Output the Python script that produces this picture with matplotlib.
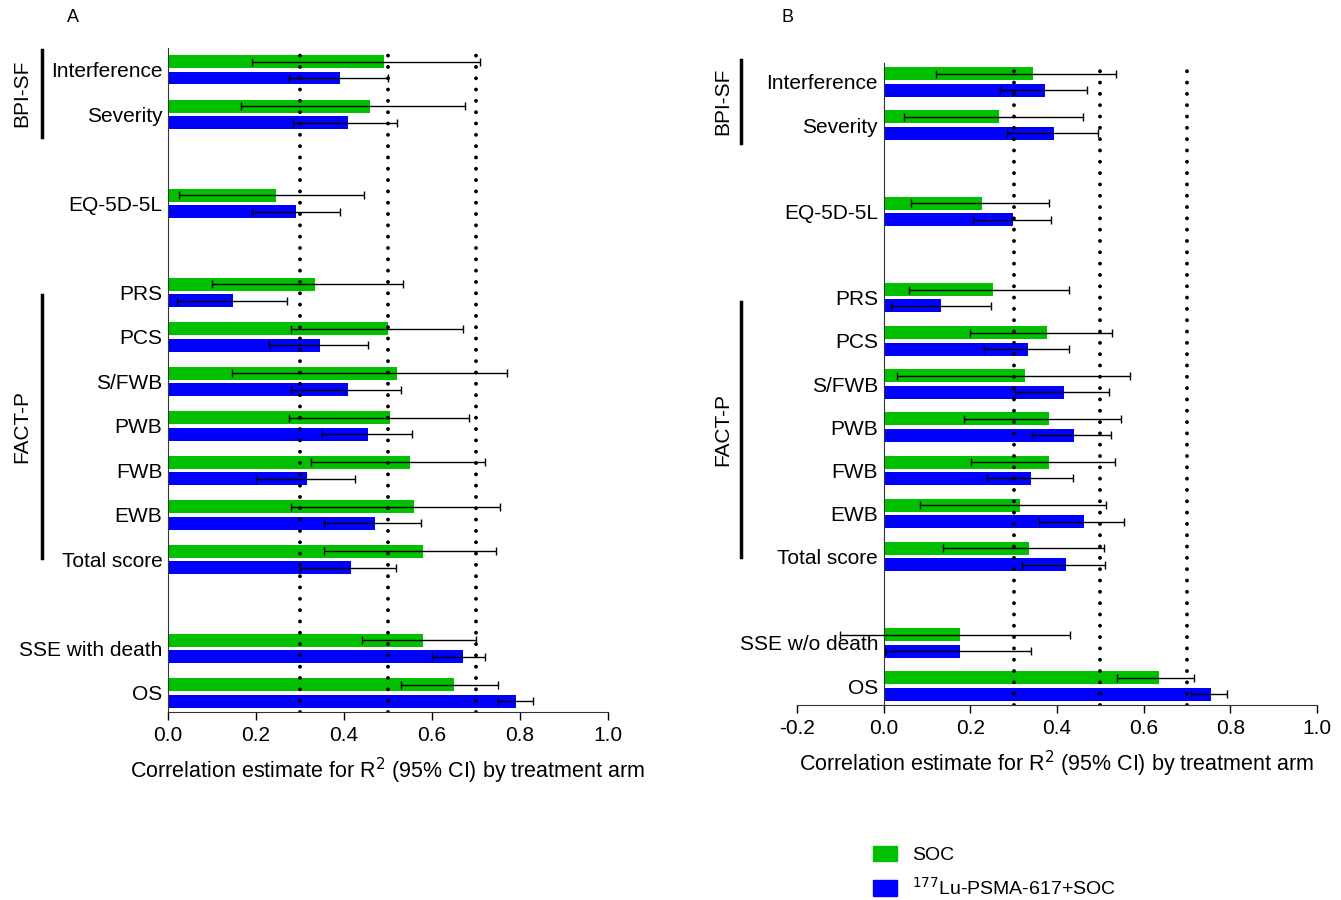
import matplotlib
matplotlib.use('Agg')
import matplotlib.pyplot as plt
from matplotlib.lines import Line2D
from matplotlib.patches import Patch
import numpy as np

plt.rcParams['font.family'] = ['Liberation Sans', 'DejaVu Sans']

# panel A data
cats_a = ['Interference', 'Severity', 'EQ-5D-5L', 'PRS', 'PCS', 'S/FWB', 'PWB',
          'FWB', 'EWB', 'Total score', 'SSE with death', 'OS']
soc_a = [0.49, 0.46, 0.245, 0.335, 0.50, 0.52, 0.505, 0.55, 0.56, 0.58, 0.58, 0.65]
soc_a_lo = [0.19, 0.165, 0.025, 0.10, 0.28, 0.145, 0.275, 0.325, 0.28, 0.355, 0.44, 0.53]
soc_a_hi = [0.71, 0.675, 0.445, 0.535, 0.67, 0.77, 0.685, 0.72, 0.755, 0.745, 0.70, 0.75]
lu_a = [0.39, 0.41, 0.29, 0.148, 0.345, 0.41, 0.455, 0.315, 0.47, 0.415, 0.67, 0.79]
lu_a_lo = [0.275, 0.285, 0.19, 0.02, 0.23, 0.28, 0.35, 0.20, 0.355, 0.30, 0.60, 0.75]
lu_a_hi = [0.50, 0.52, 0.39, 0.27, 0.455, 0.53, 0.555, 0.425, 0.575, 0.518, 0.72, 0.83]

# panel B data
cats_b = ['Interference', 'Severity', 'EQ-5D-5L', 'PRS', 'PCS', 'S/FWB', 'PWB',
          'FWB', 'EWB', 'Total score', 'SSE w/o death', 'OS']
soc_b = [0.345, 0.265, 0.228, 0.252, 0.377, 0.326, 0.381, 0.381, 0.315, 0.336, 0.177, 0.636]
soc_b_lo = [0.12, 0.046, 0.064, 0.059, 0.20, 0.031, 0.185, 0.201, 0.084, 0.138, -0.10, 0.538]
soc_b_hi = [0.537, 0.459, 0.381, 0.427, 0.528, 0.569, 0.548, 0.534, 0.512, 0.508, 0.429, 0.716]
lu_b = [0.373, 0.394, 0.299, 0.133, 0.332, 0.416, 0.439, 0.341, 0.462, 0.42, 0.177, 0.755]
lu_b_lo = [0.269, 0.285, 0.205, 0.016, 0.232, 0.303, 0.343, 0.239, 0.359, 0.32, 0.002, 0.71]
lu_b_hi = [0.47, 0.494, 0.387, 0.247, 0.427, 0.519, 0.524, 0.438, 0.555, 0.511, 0.339, 0.793]

ref_lines = [0.3, 0.5, 0.7]
series_names = ['SOC', '$^{177}$Lu-PSMA-617+SOC']

GREEN = '#00c000'
BLUE = '#0000ff'
W, H = 1341, 900

# row slots, with gaps between instrument groups
pos = np.array([0, 1, 3, 5, 6, 7, 8, 9, 10, 11, 13, 14])


def px(x, y):
    return x / W, 1 - y / H


def axes_px(fig, left, top, right, bottom):
    return fig.add_axes([left / W, 1 - bottom / H, (right - left) / W, (bottom - top) / H])


def draw_panel(ax, cats, soc, soc_lo, soc_hi, lu, lu_lo, lu_hi, xmin, ylim, bh, off):
    # spine position first: moving it resets the tick labels
    for s in ['top', 'right']:
        ax.spines[s].set_visible(False)
    ax.spines['left'].set_position(('data', 0))
    ax.spines['left'].set_color('#333333')
    ax.spines['bottom'].set_color('#333333')

    soc = np.array(soc)
    lu = np.array(lu)
    ax.barh(pos - off, soc, height=bh, color=GREEN, zorder=2)
    ax.barh(pos + off, lu, height=bh, color=BLUE, zorder=2)
    for r in ref_lines:
        ax.axvline(r, color='black', lw=2.8, linestyle=(0, (0.01, 2.9)),
                   dash_capstyle='round', zorder=3)
    ax.errorbar(soc, pos - off, xerr=[soc - np.array(soc_lo), np.array(soc_hi) - soc],
                fmt='none', ecolor='black', elinewidth=1, capsize=3, capthick=1, zorder=4)
    ax.errorbar(lu, pos + off, xerr=[lu - np.array(lu_lo), np.array(lu_hi) - lu],
                fmt='none', ecolor='black', elinewidth=1, capsize=3, capthick=1, zorder=4)
    ax.set_xlim(xmin, 1.0)
    ax.set_ylim(*ylim)
    ax.set_yticks(pos)
    ax.set_yticklabels(cats, fontsize=15)
    ax.tick_params(axis='y', length=0, pad=4)
    ticks = np.round(np.arange(xmin, 1.01, 0.2), 1)
    ax.set_xticks(ticks)
    ax.set_xticklabels(['%.1f' % (v + 0.0) for v in ticks], fontsize=15)
    ax.tick_params(axis='x', length=6, width=1, pad=4)
    ax.set_xlabel('Correlation estimate for R$^2$ (95% CI) by treatment arm',
                  fontsize=15.5, labelpad=8)


fig = plt.figure(figsize=(W / 100, H / 100), dpi=100)

ax_a = axes_px(fig, 168, 48, 608, 712)
draw_panel(ax_a, cats_a, soc_a, soc_a_lo, soc_a_hi, lu_a, lu_a_lo, lu_a_hi,
           0.0, (14.43, -0.49), 0.29, 0.185)

ax_b = axes_px(fig, 797, 63, 1317, 705)
draw_panel(ax_b, cats_b, soc_b, soc_b_lo, soc_b_hi, lu_b, lu_b_lo, lu_b_hi,
           -0.2, (14.44, -0.44), 0.30, 0.19)

# panel letters
fig.text(*px(73, 18), 'A', fontsize=13, ha='center', va='center')
fig.text(*px(787, 18), 'B', fontsize=13, ha='center', va='center')

# instrument brackets
brackets = [(42, 50, 137, 22, 'BPI-SF'), (42, 295, 558, 22, 'FACT-P'),
            (741, 60, 143, 723, 'BPI-SF'), (741, 302, 557, 723, 'FACT-P')]
for lx, y0, y1, tx, name in brackets:
    x0f, y0f = px(lx, y0)
    _, y1f = px(lx, y1)
    fig.add_artist(Line2D([x0f, x0f], [y0f, y1f], color='black', lw=2.5))
    fig.text(*px(tx, (y0 + y1) / 2), name, rotation=90, fontsize=15,
             ha='center', va='center')

# legend
handles = [Patch(color=GREEN), Patch(color=BLUE)]
fig.legend(handles, series_names, loc='upper left', bbox_to_anchor=px(855, 828),
           frameon=False, fontsize=14, handlelength=1.25, handleheight=0.85,
           labelspacing=0.65, handletextpad=0.8)

fig.savefig('out.png', dpi=100)
